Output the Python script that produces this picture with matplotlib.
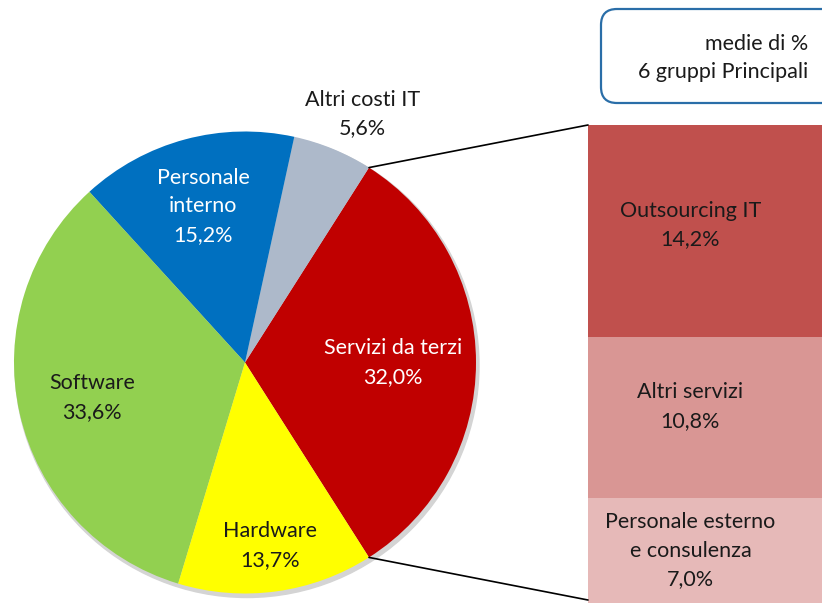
import numpy as np
import matplotlib
matplotlib.use("Agg")
import matplotlib.pyplot as plt
from matplotlib.patches import FancyBboxPatch, Circle, ConnectionPatch

plt.rcParams['font.family'] = ['Lato', 'DejaVu Sans']

# pie: 6 main groups (mean %)
pie_labels = ["Servizi da terzi", "Altri costi IT", "Personale\ninterno",
              "Software", "Hardware"]
pie_values = [32.0, 5.6, 15.2, 33.6, 13.7]
pie_text = ["32,0%", "5,6%", "15,2%", "33,6%", "13,7%"]
pie_colors = ["#C00000", "#ADB9CA", "#0070C0", "#92D050", "#FFFF00"]
pie_txtcol = ["white", "#1a1a1a", "white", "#1a1a1a", "#1a1a1a"]
label_dist = [0.64, 1.19, 0.70, 0.68, 0.80]

# breakdown of "Servizi da terzi", bottom to top
bar_labels = ["Personale esterno\ne consulenza", "Altri servizi", "Outsourcing IT"]
bar_values = [7.0, 10.8, 14.2]
bar_text = ["7,0%", "10,8%", "14,2%"]
bar_colors = ["#E6B9B8", "#D99694", "#C0504D"]
bar_lab_shift = [0, 11, 6]   # px upward nudge of the labels

FS = 15.5
LS = 1.55

W, H = 822, 603
fig = plt.figure(figsize=(W / 100, H / 100), dpi=100)
ax = fig.add_axes([0, 0, 1, 1])

cx, cy, r = 245, H - 362.5, 231
start = -pie_values[0] / sum(pie_values) * 360 / 2

# soft shadow behind the pie
ax.add_patch(Circle((cx + 2, cy - 3), r + 1, color="#d4d4d4", zorder=0))

wedges, _ = ax.pie(pie_values, colors=pie_colors, startangle=start,
                   counterclock=True, center=(cx, cy), radius=r,
                   wedgeprops=dict(linewidth=0))

for w, lab, txt, col, d in zip(wedges, pie_labels, pie_text, pie_txtcol, label_dist):
    mid = np.deg2rad((w.theta1 + w.theta2) / 2)
    if lab == "Altri costi IT":
        mid = np.deg2rad(64.7)
    ax.text(cx + d * r * np.cos(mid), cy + d * r * np.sin(mid), lab + "\n" + txt,
            ha="center", va="center", fontsize=FS, color=col, zorder=5,
            linespacing=LS)

ax.set_xlim(0, W)
ax.set_ylim(0, H)
ax.axis("off")

# stacked bar on the right
bx0, btop = 588, 125
bax = fig.add_axes([bx0 / W, 0, (W - bx0 + 10) / W, (H - btop) / H])
px = sum(bar_values) / (H - btop)
bottom = 0
for v, c, lab, txt, sh in zip(bar_values, bar_colors, bar_labels, bar_text, bar_lab_shift):
    bax.bar(0, v, bottom=bottom, width=1, align="edge", color=c, linewidth=0)
    bax.text(0.42, bottom + v / 2 + sh * px, lab + "\n" + txt, ha="center", va="center",
             fontsize=FS, color="#1a1a1a", linespacing=LS)
    bottom += v
bax.set_xlim(0, 1)
bax.set_ylim(0, sum(bar_values))
bax.axis("off")

# connector lines from the "Servizi da terzi" wedge to the bar
w0 = wedges[0]
for ang, yb in [(w0.theta2, sum(bar_values)), (w0.theta1, 0.2)]:
    a = np.deg2rad(ang)
    con = ConnectionPatch(xyA=(cx + r * np.cos(a), cy + r * np.sin(a)), coordsA=ax.transData,
                          xyB=(0, yb), coordsB=bax.transData, color="black", lw=1.2)
    fig.add_artist(con)

# note box
box = FancyBboxPatch((601, H - 103), 240, 94, boxstyle="round,pad=0,rounding_size=16",
                     fc="white", ec="#2A6EA8", lw=1.6, zorder=6)
ax.add_patch(box)
ax.text(808, H - 58, "medie di %\n6 gruppi Principali", ha="right", va="center",
        fontsize=FS, color="#1a1a1a", zorder=7, linespacing=LS)

fig.savefig("out.png", dpi=100)
